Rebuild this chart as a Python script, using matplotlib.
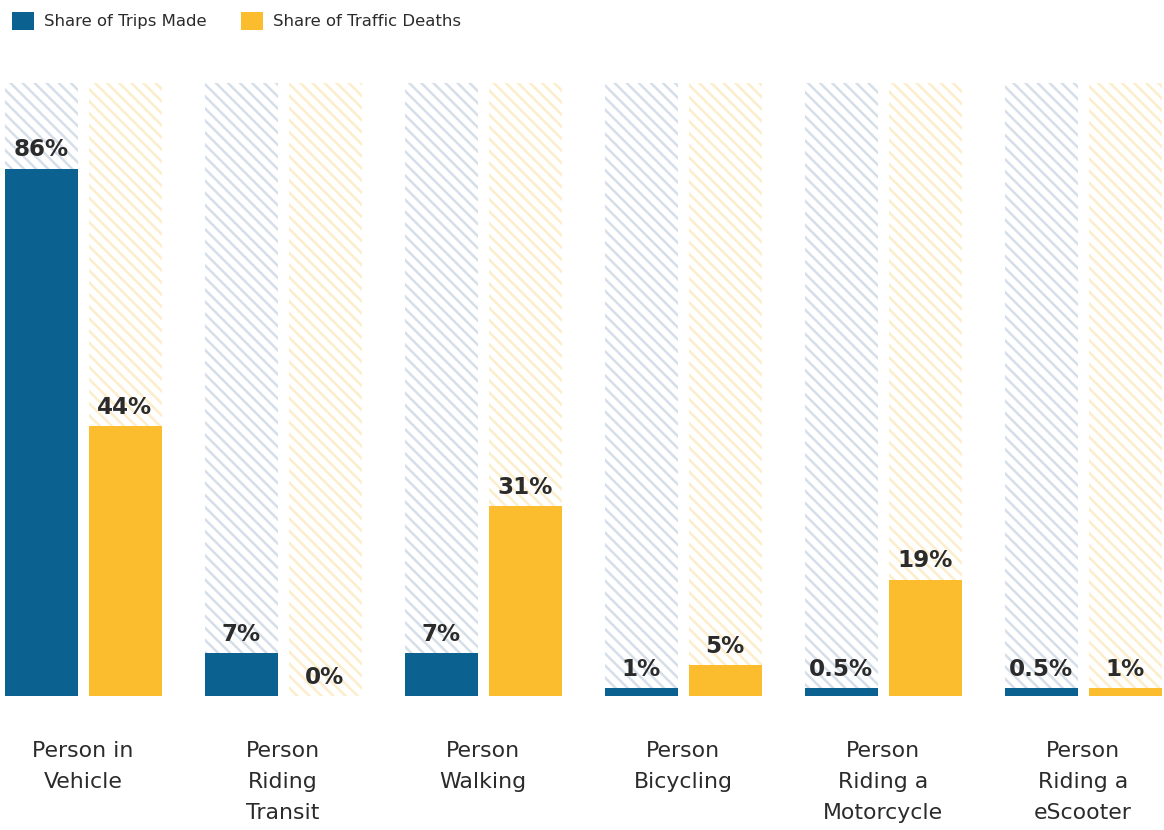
import numpy as np
import matplotlib.pyplot as plt
from matplotlib.patches import Patch

# ---------------------------------------------
# DATA
# ---------------------------------------------
categories = [
    "Person in\nVehicle",
    "Person\nRiding\nTransit",
    "Person\nWalking",
    "Person\nBicycling",
    "Person\nRiding a\nMotorcycle",
    "Person\nRiding a\neScooter",
]
trips_share = [86, 7, 7, 1, 0.5, 0.5]
deaths_share = [44, 0, 31, 5, 19, 1]
trip_labels = ["86%", "7%", "7%", "1%", "0.5%", "0.5%"]
death_labels = ["44%", "0%", "31%", "5%", "19%", "1%"]

# ---------------------------------------------
# STYLE
# ---------------------------------------------
BLUE = "#0b6290"
YELLOW = "#fbbd2d"
BLUE_HATCH = "#d6dfe9"
YELLOW_HATCH = "#fcedcb"
TEXT = "#2b2b2b"
FONT = "DejaVu Sans"

# dpi chosen so the hatch spacing matches the reference (~12 px)
DPI = 145.5


def px(size):
    # pixel size -> points at this dpi
    return size / DPI * 72


plt.rcParams["hatch.linewidth"] = px(2.5)

fig = plt.figure(figsize=(1164 / DPI, 830 / DPI), dpi=DPI)
ax = fig.add_axes([0, 0.1614, 1, 0.7386])

x = np.arange(len(categories))
offset = 0.21
width = 0.365
min_show = 1.3  # thin bars are drawn with a small visible floor

# hatched 100% background
ax.bar(x - offset, 100, width, color="none", edgecolor=BLUE_HATCH,
       hatch="\\\\\\\\", linewidth=0, zorder=1)
ax.bar(x + offset, 100, width, color="none", edgecolor=YELLOW_HATCH,
       hatch="\\\\\\\\", linewidth=0, zorder=1)

trips_draw = [max(v, min_show) if v > 0 else 0 for v in trips_share]
deaths_draw = [max(v, min_show) if v > 0 else 0 for v in deaths_share]

ax.bar(x - offset, trips_draw, width, color=BLUE, linewidth=0, zorder=2)
ax.bar(x + offset, deaths_draw, width, color=YELLOW, linewidth=0, zorder=2)

for i in range(len(categories)):
    ax.text(x[i] - offset, trips_draw[i] + 1.2, trip_labels[i],
            ha="center", va="bottom", fontsize=px(23), fontweight="bold",
            color=TEXT, family=FONT, zorder=3)
    ax.text(x[i] + offset, deaths_draw[i] + 1.2, death_labels[i],
            ha="center", va="bottom", fontsize=px(23), fontweight="bold",
            color=TEXT, family=FONT, zorder=3)
    ax.text(x[i], -7.3, categories[i], ha="center", va="top",
            fontsize=px(22), color=TEXT, family=FONT, linespacing=1.7)

ax.set_xlim(-0.415, 5.405)
ax.set_ylim(0, 100)
ax.axis("off")

# legend
handles = [
    Patch(facecolor=BLUE, edgecolor="none", label="Share of Trips Made"),
    Patch(facecolor=YELLOW, edgecolor="none", label="Share of Traffic Deaths"),
]
fig.legend(handles=handles, loc="upper left", bbox_to_anchor=(0.0, 1.0),
           ncol=2, frameon=False, prop={"family": FONT, "size": px(16.5)},
           handlelength=1.35, handleheight=1.35, columnspacing=2.1,
           handletextpad=0.6, labelcolor=TEXT, borderaxespad=0.3)

fig.savefig("out.png", dpi=DPI, facecolor="white")
